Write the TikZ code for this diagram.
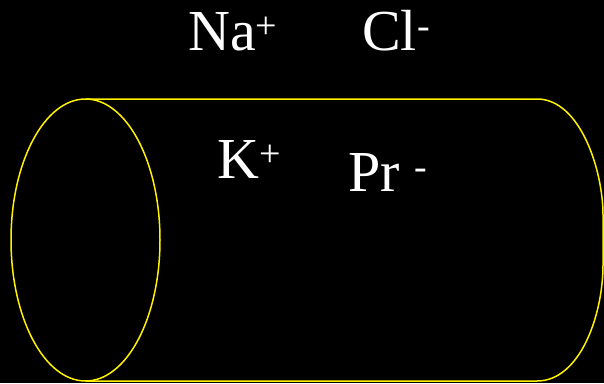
\documentclass[tikz,border=0pt]{standalone}
\usepackage{fontspec}
\setmainfont{Liberation Serif}
\newcommand{\ionsup}[1]{\raisebox{12pt}{\fontsize{38}{38}\selectfont #1}}
\tikzset{
  ion/.style={text=white, inner sep=0pt, anchor=base west, font=\fontsize{58}{60}\selectfont},
  wall/.style={draw=yellow, line width=1.5pt}
}
\begin{document}
\begin{tikzpicture}[x=1pt, y=-1pt]
  % 1. background
  \fill[black] (0,0) rectangle (604,383);
  \useasboundingbox (0,0) rectangle (604,383);

  % 2. cylinder body and left end
  \draw[wall] (86,99) -- (537,99)
    .. controls (580,99) and (603,170) .. (603,215) -- (603,265)
    .. controls (603,315) and (580,381) .. (537,381) -- (86,381);
  \draw[wall] (85.5,240) ellipse [x radius=74.5, y radius=141];

  % 3. ions outside
  \node[ion] (na) at (188,50) {Na\ionsup{+}};
  \node[ion] (cl) at (362,50) {Cl\ionsup{-}};

  % 4. ions inside
  \node[ion] (k) at (217,178) {K\ionsup{+}};
  \node[ion] (pr) at (348,191) {Pr \ionsup{-}};
\end{tikzpicture}
\end{document}
